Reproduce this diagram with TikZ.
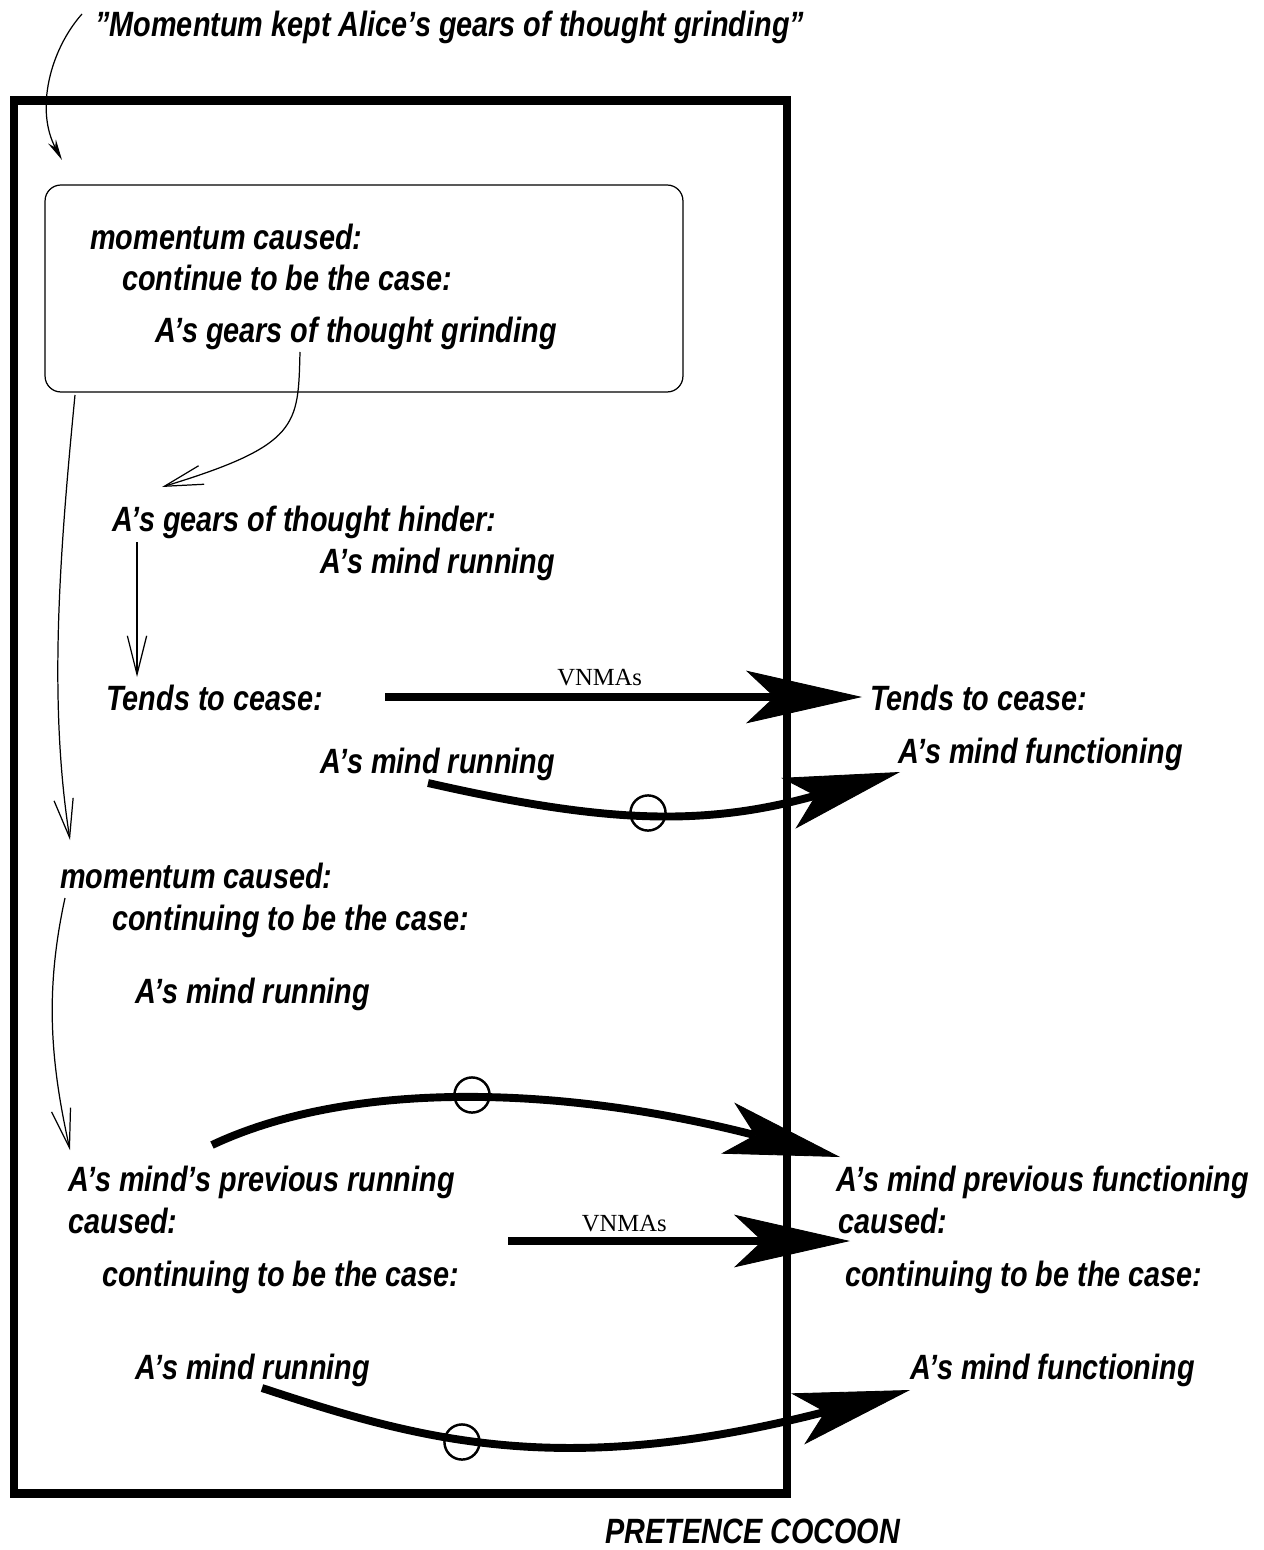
\documentclass[tikz,border=0pt]{standalone}
\usepackage{fontspec}
\usepackage{tikz}
\usetikzlibrary{arrows.meta, positioning, calc}
\newfontfamily\narrowsans[FakeStretch=0.82, Ligatures=TeX]{Liberation Sans}
\newfontfamily\vnmaserif{Liberation Serif}

\begin{document}
\begin{tikzpicture}[x=0.02cm, y=-0.02cm,
    lbl/.style={anchor=base west, inner sep=0pt,
                font=\narrowsans\bfseries\itshape\fontsize{20}{24}\selectfont},
    vnma/.style={inner sep=0pt, font=\vnmaserif\fontsize{14}{16}\selectfont},
    thin/.style={line width=0.7pt},
    vhead/.style={thin, -{Straight Barb[length=22pt, width=11pt]}},
    bigarr/.style={line width=4.5pt,
                   -{Stealth[length=66pt, width=30pt, inset=16pt, line width=0.5pt]}},
    ring/.style={circle, draw, line width=1.4pt, inner sep=0pt, minimum size=20pt},
    cocoon/.style={rectangle, draw, line width=5pt, minimum width=15.46cm,
                   minimum height=27.88cm},
    memo/.style={rectangle, draw, thin, rounded corners=9pt,
                 minimum width=12.76cm, minimum height=4.14cm}
]
    \useasboundingbox (0,0) rectangle (1263,1550);

    % pretence cocoon and the remembered state
    \node[cocoon] (frame) at (400.5,797) {};
    \node[memo] (memo) at (364,288.5) {};

    \node[lbl] (quote) at (95,37) {''Momentum kept Alice's gears of thought grinding''};
    \node[lbl] (mom1) at (90,250) {momentum caused:};
    \node[lbl] (cont1) at (122,291) {continue to be the case:};
    \node[lbl] (gears) at (155,343) {A's gears of thought grinding};

    \node[lbl] (hinder) at (112,531) {A's gears of thought hinder:};
    \node[lbl] (run1) at (320,573) {A's mind running};
    \node[lbl] (tends) at (106,710) {Tends to cease:};
    \node[lbl] (run2) at (320,773) {A's mind running};
    \node[lbl] (tendsR) at (870,710) {Tends to cease:};
    \node[lbl] (funcR) at (898,763) {A's mind functioning};

    \node[lbl] (mom2) at (60,888) {momentum caused:};
    \node[lbl] (cont2) at (112,930) {continuing to be the case:};
    \node[lbl] (run3) at (135,1003) {A's mind running};

    \node[lbl] (prev) at (68,1191) {A's mind's previous running};
    \node[lbl] (caus) at (68,1233) {caused:};
    \node[lbl] (cont3) at (102,1286) {continuing to be the case:};
    \node[lbl] (run4) at (135,1379) {A's mind running};

    \node[lbl] (prevR) at (836,1191) {A's mind previous functioning};
    \node[lbl] (causR) at (838,1233) {caused:};
    \node[lbl] (contR) at (845,1286) {continuing to be the case:};
    \node[lbl] (func2R) at (910,1379) {A's mind functioning};

    \node[lbl] (cocoonlbl) at (605,1543) {PRETENCE COCOON};

    % end points of the connectors
    \coordinate (q0) at (82,14);
    \coordinate (q1) at (62,160);
    \coordinate (g0) at (300,352);
    \coordinate (g1) at (162,487);
    \coordinate (h0) at (137,542);
    \coordinate (h1) at (137,677);
    \coordinate (m0) at (75,395);
    \coordinate (m1) at (70,840);
    \coordinate (n0) at (65,898);
    \coordinate (n1) at (70,1150);
    \coordinate (v0) at (385,697);
    \coordinate (v1) at (862,697);
    \coordinate (w0) at (508,1241);
    \coordinate (w1) at (850,1241);
    \coordinate (a0) at (428,783);
    \coordinate (a1) at (900,772);
    \coordinate (b0) at (212,1145);
    \coordinate (b1) at (840,1157);
    \coordinate (c0) at (262,1388);
    \coordinate (c1) at (910,1390);

    \node[ring] (o1) at (648,813) {};
    \node[ring] (o2) at (472,1095) {};
    \node[ring] (o3) at (462,1442) {};

    \draw[thin, -{Stealth[length=12pt, width=5pt]}] (q0) .. controls (50,50) and (35,110) .. (q1);
    \draw[vhead] (g0) .. controls (298,425) and (300,445) .. (g1);
    \draw[vhead] (h0) -- (h1);
    \draw[vhead] (m0) .. controls (60,550) and (48,700) .. (m1);
    \draw[vhead] (n0) .. controls (45,990) and (50,1060) .. (n1);

    \draw[bigarr] (v0) -- node[vnma, above=4pt, pos=0.45] (vn1) {VNMAs} (v1);
    \draw[bigarr] (w0) -- node[vnma, above=3pt, pos=0.34] (vn2) {VNMAs} (w1);

    \draw[bigarr] (a0) .. controls (600,822) and (700,828) .. (a1);
    \draw[bigarr] (b0) .. controls (350,1080) and (560,1085) .. (b1);
    \draw[bigarr] (c0) .. controls (420,1440) and (560,1480) .. (c1);
\end{tikzpicture}
\end{document}
